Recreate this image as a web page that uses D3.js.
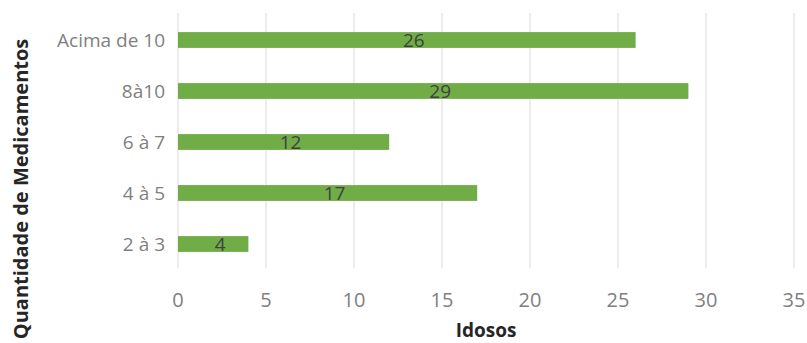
<!DOCTYPE html>
<html><head><meta charset="utf-8">
<script src="https://cdn.jsdelivr.net/npm/d3@7"></script>
<style>body{margin:0;background:#fff;} text{font-family:"Open Sans",sans-serif;}</style>
</head><body>
<svg id="c" width="807" height="343"></svg>
<script>
const categories = ["Acima de 10", "8à10", "6 à 7", "4 à 5", "2 à 3"];
const values = [26, 29, 12, 17, 4];
const xTicks = [0, 5, 10, 15, 20, 25, 30, 35];
const xTitle = "Idosos";
const yTitle = "Quantidade de Medicamentos";

(function () {
const svg = d3.select("#c");
const mL = 178, mR = 794, mT = 13, mB = 268;
const x = d3.scaleLinear().domain([0, 35]).range([mL, mR]);
const y = d3.scaleBand().domain(categories).range([mT + 1.5, mB + 1.5]).paddingInner(0.69).paddingOuter(0.345);

// gridlines
svg.append("g").selectAll("line").data(xTicks).join("line")
  .attr("x1", d => x(d)).attr("x2", d => x(d))
  .attr("y1", mT).attr("y2", mB)
  .attr("stroke", "#d9d9d9").attr("stroke-width", 1);

// bars
svg.append("g").selectAll("rect").data(values).join("rect")
  .attr("x", x(0))
  .attr("y", (d, i) => y(categories[i]))
  .attr("width", d => x(d) - x(0))
  .attr("height", y.bandwidth())
  .attr("fill", "#70ad47");

// data labels
svg.append("g").selectAll("text").data(values).join("text")
  .attr("x", d => (x(0) + x(d)) / 2 + 7)
  .attr("y", (d, i) => y(categories[i]) + y.bandwidth() / 2)
  .attr("dy", "0.36em")
  .attr("text-anchor", "middle")
  .attr("font-size", 19)
  .attr("fill", "#404040")
  .text(d => d);

// y category labels
svg.append("g").selectAll("text").data(categories).join("text")
  .attr("x", 165)
  .attr("y", d => y(d) + y.bandwidth() / 2)
  .attr("dy", "0.36em")
  .attr("text-anchor", "end")
  .attr("font-size", 19)
  .attr("fill", "#7f7f7f")
  .text(d => d);

// x tick labels
svg.append("g").selectAll("text").data(xTicks).join("text")
  .attr("x", d => x(d))
  .attr("y", 300)
  .attr("dy", "0.36em")
  .attr("text-anchor", "middle")
  .attr("font-size", 20)
  .attr("fill", "#7f7f7f")
  .text(d => d);

// axis titles
svg.append("text")
  .attr("x", (mL + mR) / 2).attr("y", 337)
  .attr("text-anchor", "middle").attr("font-size", 19).attr("font-weight", "bold")
  .attr("fill", "#262626").text(xTitle);
svg.append("text")
  .attr("transform", "translate(28,189) rotate(-90)")
  .attr("text-anchor", "middle").attr("font-size", 20).attr("font-weight", "bold")
  .attr("fill", "#262626").text(yTitle);
})();
</script>
</body></html>
